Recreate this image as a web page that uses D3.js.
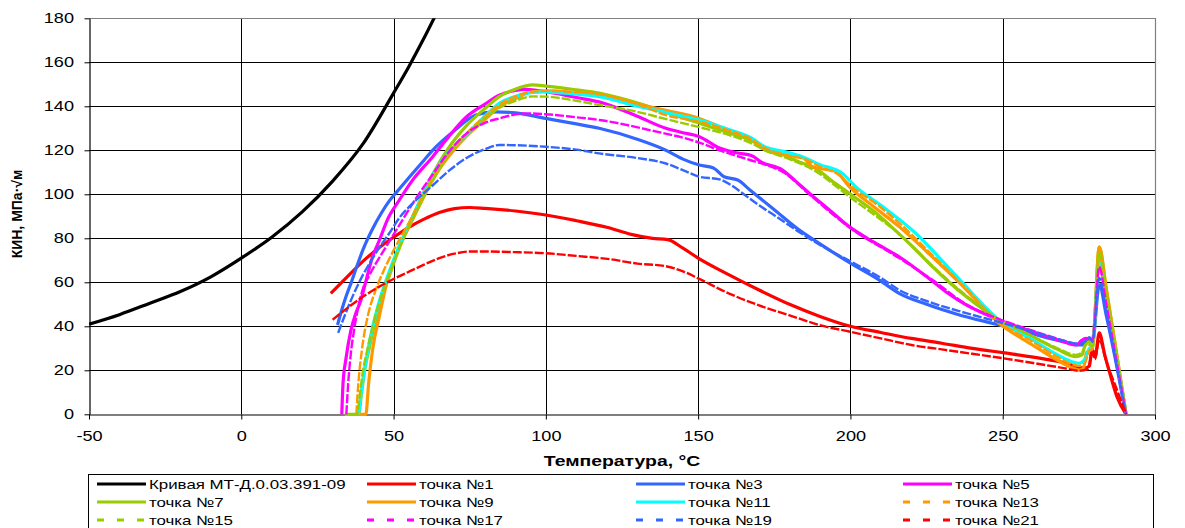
<!DOCTYPE html>
<html>
<head>
<meta charset="utf-8">
<script src="https://cdn.jsdelivr.net/npm/d3@7"></script>
<style>
  body { margin: 0; background: #fff; }
  svg { display: block; font-family: "Liberation Sans", Arial, sans-serif; }
</style>
</head>
<body>
<div id="chart"></div>
<script>
// ---- data: [температура, КИН] ----
var xTicks = [-50, 0, 50, 100, 150, 200, 250, 300];
var yTicks = [0, 20, 40, 60, 80, 100, 120, 140, 160, 180];

var mtCurve = [[-50,41],[-40,45.3],[-30,50.5],[-20,55.8],[-10,62.5],[0,71],[10,80.5],[20,92],[30,106],[40,123],[50,146],[55,158],[60,171],[64,182]];

var tochka1 = [[29.4,55],[35,62.8],[40,69.6],[45,75.5],[50,80.5],[55,85],[60,88.7],[65,91.7],[70,93.5],[75,94],[80,93.6],[90,92.4],[100,90.6],[110,88],[120,85],[128,81.8],[135,80],[140,79.4],[145,75.5],[150,71],[160,63.5],[170,56.5],[180,50],[190,44.5],[200,40],[210,37.2],[220,34.5],[230,32.3],[240,30],[250,28],[260,26],[270,23.5],[277,21],[278.5,22],[279.3,30],[280.3,26],[281.7,37],[283.5,27],[285.5,17],[287.5,8],[290.5,0]];
var tochka3 = [[31.6,40.6],[33,47.5],[34.5,54],[36,59.5],[38,67.5],[40,75],[43,84],[46,91.5],[48.6,97],[51,101],[55,107.5],[60,115.5],[62.8,120],[70,129],[77,136],[83.6,137.5],[90,137],[100,134.5],[110,132],[117.5,130],[130,125],[139.4,120],[145,116],[150.4,113.3],[155,112],[158.5,108],[163,106.5],[167,102],[175,93],[183,84],[190,77.5],[199.6,69],[209.5,61],[216,55],[225,50],[235,45.5],[248.8,40.6],[260,36.5],[270,33],[275,31.5],[277,32],[278,34],[279.5,33],[281.7,58.8],[284,45],[287,25],[290.4,0]];
var tochka5 = [[33,0],[33.4,14],[34.3,24.7],[36,38.3],[37.6,45.9],[39.3,52],[41,61],[43.1,71.6],[45.3,79],[48,88.5],[51.9,97.4],[56,106],[62.8,117],[68,126],[73.8,135],[80,141],[84.7,145],[90,147.2],[93.5,147.7],[100,146.6],[110,144],[117.5,142],[130,135.5],[139.4,130],[145,128],[150.4,126.2],[157,121],[162,119],[167.8,117.4],[170.5,114.8],[177.7,111],[182,106],[186.5,100.5],[193,93],[199.6,85.3],[208,78],[216,71.6],[226,61.5],[232,55],[238,49.7],[248.8,42.9],[259.8,37.5],[270,33],[274,31.5],[276,33.5],[277.3,34.5],[279.5,34],[281.7,69],[284,52],[287,28],[290.5,0]];
var tochka7 = [[34,0],[38.5,0],[39.5,10],[40.5,20],[42,30],[44,42],[46,52],[48,60.5],[50,68.5],[52,76],[55,86],[58,95],[62.8,109],[68,121],[73.8,131],[80,139],[84.7,144.4],[90,147.8],[95.6,149.7],[100,149.2],[110,147.5],[117.5,146],[125,143.5],[134,139.8],[142,136],[150.4,132.3],[160,128],[167,124.7],[172.2,121],[177,118.5],[183,114.8],[188.6,111.8],[194,106],[199.6,100.5],[208,92],[216,82],[222,74],[227,67],[232.4,60],[238,53.5],[248.8,42.9],[259.8,35.3],[268,29.5],[274,26.2],[276,27],[277,31],[278.5,33],[279.5,31],[281.7,76],[284,57],[287,31],[290.5,0]];
var tochka9 = [[38.5,0],[40.9,0],[41.8,14],[43.1,29.2],[45.3,44.4],[48,61],[50.8,72.5],[55,85],[58,93.5],[62.8,106.5],[68,117],[73.8,126.2],[80,134],[84.7,139.8],[90,143.5],[95.6,146.6],[101.2,147],[110,146],[117.5,145.1],[130,141],[140,138],[150.4,134.5],[160,129],[167,125.5],[172.2,120],[178,118],[184.3,116.8],[187.6,112.5],[195.2,110.3],[199.6,103.5],[208,94],[216,85.3],[225,74],[236,59.5],[248.8,41.4],[259.8,31.5],[268,24.5],[273,21],[275,20.1],[276.5,21],[277.5,28],[279.5,30],[281.7,76],[284,57],[287,31],[290.5,0]];
var tochka11 = [[38.5,0],[39.8,14],[42,32.3],[44.8,48.9],[48.6,65],[52,77],[56,89],[62.8,108.8],[68,119],[73.8,127],[80,135.5],[84.7,141.4],[90,144.5],[95,146.2],[100,146.6],[110,145.5],[117.5,144.4],[130,140],[140,137],[150.4,133.8],[160,129.5],[167,126],[172,121.5],[178,119.5],[184.3,117],[190,113.5],[197.4,109.5],[201.7,103.5],[210,95],[221.4,82.3],[230,70],[237,59.5],[248.8,42.9],[259.8,33.8],[268,27],[275,23.2],[277,25],[278.5,30],[279.5,31],[281.7,70],[284,53],[287,29],[290.5,0]];
var tochka13 = [[37.8,0],[38.2,9.5],[39.6,29.2],[41.5,44.4],[44,56],[47,66],[50,74.5],[55,87],[62.8,107.5],[68,118.5],[73.8,127.5],[80,135.5],[85,141],[90,144.5],[95,146.5],[100,147],[110,146.5],[117.5,145.5],[130,141],[139.4,136],[150.4,133],[160,129],[167,125.5],[172,121],[180,117.5],[185,116],[190,112.5],[196,109],[200,104],[210,94],[216,87],[225,75],[236,60],[248.8,42],[259.8,33],[268,26],[275,22],[277,23.5],[278.5,29],[279.5,30],[281.7,72],[284,54],[287,30],[290.5,0]];
var tochka15 = [[36,0],[38,0],[39,10],[40,20],[41.5,30],[43.5,42],[46,54],[48.6,64],[52,76],[56,88],[62.8,106],[68,118],[73.8,127],[80,134.5],[85,139.5],[90,142.5],[95.6,144.5],[100,144.4],[110,142.5],[117.5,140.6],[128.4,138],[140,134],[150.4,130.5],[160,127],[167,123.5],[172,120],[180,116],[188,111],[195,104],[199.6,99],[208,90.5],[216,82],[225,70],[232,61],[238,54],[248.8,43],[259.8,35.5],[268,30],[274,27],[276,28],[277.5,32],[279.5,31],[281.7,74],[284,56],[287,30],[290.5,0]];
var tochka17 = [[34.5,0],[35,12],[36,28],[37,38],[38.2,47.4],[39.8,56.5],[42,63],[44.2,68.6],[46.9,74.7],[51.9,86],[57.3,98],[62.8,109],[68,119],[73.8,127.5],[80,132.5],[84.7,134.5],[93.5,136.8],[100,136.4],[110,135],[117.5,133.8],[134,129.2],[150.4,123.5],[157,120],[167,115.6],[172,113.5],[178,110],[186.5,100],[199.6,85],[216,71],[227,61],[238,50],[248.8,43.3],[259.8,38],[270,33.5],[274,32],[277,34.5],[279.5,34],[281.7,67],[284,50],[287,27],[290.5,0]];
var tochka19 = [[31.8,37],[34,45],[37,55],[40,63.5],[42.5,69.5],[44.8,74.7],[48.6,82.3],[52,89.5],[56,95.5],[62.8,104],[68,110.5],[73.8,116.4],[80,120.5],[84.7,122.4],[90,122.3],[100,121.6],[110,120.3],[117.5,118.6],[130,116.5],[139.4,114],[145,111],[150.4,108],[157,106.8],[161,104],[165,100],[170,95],[175,90.5],[183,83],[190,77],[200,69.5],[210,62],[216,56.5],[225,51.5],[238,46],[250,41.5],[260,37.5],[270,33.5],[275,32],[277,33],[278.5,35],[279.5,33],[281.7,62],[284,46],[287,25],[290.4,0]];
var tochka21 = [[30,43],[35,48.5],[40,53.5],[45,57.8],[50,61.5],[55,64.8],[60,68],[65,71],[70,73],[75,74],[80,74],[90,73.7],[100,73.2],[110,72],[121,70.5],[130,68.5],[139,67.4],[145,65],[150,61.8],[160,55],[170,49.5],[180,45],[190,40.5],[200,37.5],[210,34.5],[220,31.5],[230,29.5],[240,27.5],[250,25.5],[260,23.3],[270,21],[275,19.8],[278,20.5],[279.3,28],[280.3,25],[281.7,34],[284,24],[287,13],[290.5,0]];

// series list in the legend order (drawn in this order too)
var series = [
  {name: "Кривая МТ-Д.0.03.391-09", data: mtCurve, color: "#000000", dash: false},
  {name: "точка №1", data: tochka1, color: "#ff0000", dash: false},
  {name: "точка №3", data: tochka3, color: "#3366ff", dash: false},
  {name: "точка №5", data: tochka5, color: "#ff00ff", dash: false},
  {name: "точка №7", data: tochka7, color: "#99cc00", dash: false},
  {name: "точка №9", data: tochka9, color: "#ff9900", dash: false},
  {name: "точка №11", data: tochka11, color: "#00ffff", dash: false},
  {name: "точка №13", data: tochka13, color: "#ff9900", dash: true},
  {name: "точка №15", data: tochka15, color: "#99cc00", dash: true},
  {name: "точка №17", data: tochka17, color: "#ff00ff", dash: true},
  {name: "точка №19", data: tochka19, color: "#3366ff", dash: true},
  {name: "точка №21", data: tochka21, color: "#ff0000", dash: true}
];

var width = 1185, height = 528;
var sx = 1.25; // text in the picture is stretched horizontally

var svg = d3.select("#chart").append("svg")
    .attr("width", width)
    .attr("height", height);

var x = d3.scaleLinear().domain([-50, 300]).range([89, 1155]);
var y = d3.scaleLinear().domain([0, 180]).range([414.3, 18.3]);

// grid
svg.append("g").selectAll("line.h")
    .data(yTicks.filter(function (d) { return d > 0 && d < 180; }))
    .enter().append("line")
    .attr("x1", x(-50)).attr("x2", x(300))
    .attr("y1", function (d) { return Math.round(y(d)) + 0.5; })
    .attr("y2", function (d) { return Math.round(y(d)) + 0.5; })
    .attr("stroke", "#000").attr("stroke-width", 1);

svg.append("g").selectAll("line.v")
    .data(xTicks.filter(function (d) { return d > -50 && d < 300; }))
    .enter().append("line")
    .attr("x1", function (d) { return Math.round(x(d)) + 0.5; })
    .attr("x2", function (d) { return Math.round(x(d)) + 0.5; })
    .attr("y1", y(180)).attr("y2", y(0))
    .attr("stroke", "#000").attr("stroke-width", 1);

// frame top / right
svg.append("path")
    .attr("d", "M" + x(-50) + "," + (Math.round(y(180)) + 0.5) + "H" + (Math.round(x(300)) + 0.5) + "V" + y(0))
    .attr("fill", "none").attr("stroke", "#808080").attr("stroke-width", 1.2);

// axes
var yAxis = svg.append("g")
    .attr("transform", "translate(" + (Math.round(x(-50)) + 0.5) + ",0)")
    .call(d3.axisLeft(y).tickValues(yTicks).tickSize(5).tickSizeOuter(0));
yAxis.selectAll("text")
    .attr("x", -15.5 / sx)
    .attr("transform", "scale(" + sx + ",1)")
    .style("font-size", "14.5px").style("fill", "#000");

var xAxis = svg.append("g")
    .attr("transform", "translate(0," + (Math.round(y(0)) + 0.5) + ")")
    .call(d3.axisBottom(x).tickValues(xTicks).tickSize(5).tickSizeOuter(0)
        .tickFormat(function (d) { return String(d); }));
xAxis.selectAll("text")
    .attr("y", 26.5).attr("dy", 0)
    .attr("transform", "scale(" + sx + ",1)")
    .style("font-size", "14.5px").style("fill", "#000");
svg.selectAll(".domain").attr("stroke", "#000").attr("stroke-width", 1.2);
svg.selectAll(".tick line").attr("stroke", "#000");

// titles
svg.append("text")
    .attr("transform", "translate(622,466) scale(" + sx + ",1)")
    .attr("text-anchor", "middle")
    .style("font-weight", "bold").style("font-size", "15.5px")
    .text("Температура, °C");

svg.append("text")
    .attr("transform", "translate(22,214) rotate(-90)")
    .attr("text-anchor", "middle")
    .style("font-weight", "bold").style("font-size", "14px")
    .text("КИН, МПа·√м");

// lines
svg.append("clipPath").attr("id", "plotclip")
    .append("rect")
    .attr("x", x(-50)).attr("y", y(180))
    .attr("width", x(300) - x(-50)).attr("height", y(0) - y(180) + 2);

var line = d3.line()
    .x(function (d) { return x(d[0]); })
    .y(function (d) { return y(d[1]); })
    .curve(d3.curveMonotoneX);

svg.append("g").attr("clip-path", "url(#plotclip)")
    .selectAll("path")
    .data(series)
    .enter().append("path")
    .attr("d", function (s) { return line(s.data); })
    .attr("fill", "none")
    .attr("stroke", function (s) { return s.color; })
    .attr("stroke-width", function (s) { return s.dash ? 2.4 : 3.2; })
    .attr("stroke-dasharray", function (s) { return s.dash ? "9,2" : null; })
    .attr("stroke-linejoin", "round");

// legend
var legend = svg.append("g");
legend.append("rect")
    .attr("x", 88.5).attr("y", 474.5)
    .attr("width", 1065).attr("height", 80)
    .attr("fill", "#fff").attr("stroke", "#000").attr("stroke-width", 1);

var colX = [97, 367, 636, 903];
var rowY = [484, 502, 520];

series.forEach(function (s, i) {
    var cx = colX[i % 4], cy = rowY[Math.floor(i / 4)];
    legend.append("line")
        .attr("x1", cx).attr("x2", cx + 49)
        .attr("y1", cy).attr("y2", cy)
        .attr("stroke", s.color)
        .attr("stroke-width", 3)
        .attr("stroke-dasharray", s.dash ? "7,13" : null);
    legend.append("text")
        .attr("transform", "translate(" + (cx + 52) + "," + (cy + 5) + ") scale(" + sx + ",1)")
        .style("font-size", "13.5px")
        .text(s.name);
});
</script>
</body>
</html>
